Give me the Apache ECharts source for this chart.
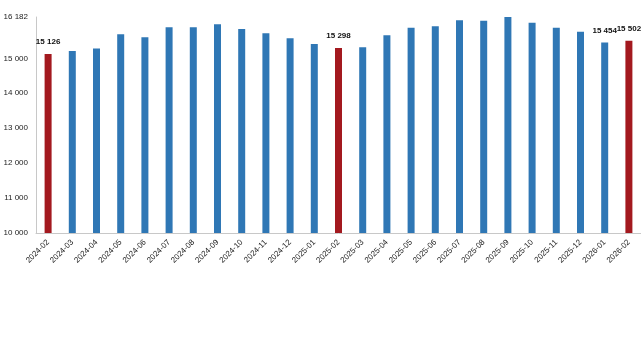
<!DOCTYPE html>
<html><head><meta charset="utf-8">
<script src="https://cdn.jsdelivr.net/npm/echarts@6/dist/echarts.min.js"></script>
<style>html,body{margin:0;padding:0;background:#fff}#c{width:641px;height:360px}</style>
</head><body><div id="c"></div>
<script>
const categories = ['2024-02','2024-03','2024-04','2024-05','2024-06','2024-07','2024-08','2024-09','2024-10','2024-11','2024-12','2025-01','2025-02','2025-03','2025-04','2025-05','2025-06','2025-07','2025-08','2025-09','2025-10','2025-11','2025-12','2026-01','2026-02'];
const values = [15126,15209,15277,15686,15600,15886,15886,15971,15837,15714,15571,15409,15298,15314,15657,15877,15914,16086,16076,16182,16020,15877,15762,15454,15502];
const highlighted = ['2024-02','2025-02','2026-02'];
const labelled = ['2024-02','2025-02','2026-01','2026-02'];
const yMin = 10000, yMax = 16182, yStep = 1000;

const fmt = v => String(v).replace(/\B(?=(\d{3})+(?!\d))/g, ' ');
const chart = echarts.init(document.getElementById('c'));
chart.setOption({
  animation: false,
  grid: {left: 36, right: 0, top: 17, bottom: 127, containLabel: false},
  xAxis: {
    type: 'category', data: categories,
    axisLine: {lineStyle: {color: '#c8c8c8'}},
    axisTick: {show: false},
    axisLabel: {rotate: 45, fontSize: 8, color: '#222', fontFamily: 'Liberation Sans', margin: 8, interval: 0}
  },
  yAxis: {
    type: 'value', min: yMin, max: yMax, interval: yStep,
    splitLine: {show: false},
    axisLine: {show: true, lineStyle: {color: '#c8c8c8'}},
    axisTick: {show: false},
    axisLabel: {fontSize: 8, color: '#222', fontFamily: 'Liberation Sans', margin: 8,
      formatter: v => (v === 16000 ? '' : fmt(v)), showMaxLabel: true}
  },
  series: [{
    type: 'bar', barWidth: 7,
    data: values.map((v, i) => ({
      value: v,
      itemStyle: {color: highlighted.includes(categories[i]) ? '#a3191f' : '#2f77b5'},
      label: {show: labelled.includes(categories[i])}
    })),
    label: {position: 'top', fontSize: 8, fontWeight: 'bold', color: '#111', fontFamily: 'Liberation Sans', distance: 8,
      formatter: p => fmt(p.value)}
  }]
});
</script></body></html>
